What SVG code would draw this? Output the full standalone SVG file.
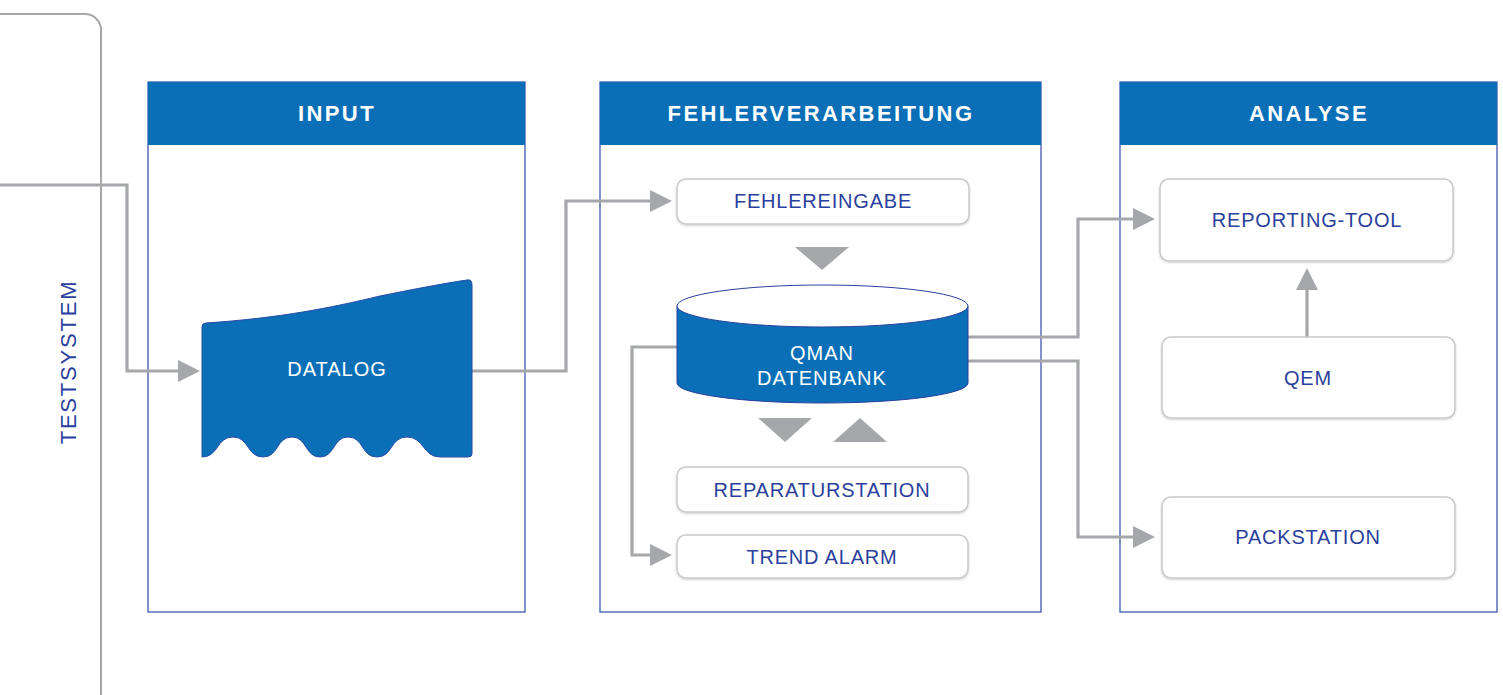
<svg xmlns="http://www.w3.org/2000/svg" width="1503" height="695" viewBox="0 0 1503 695">
<style>
.panel{fill:#fff;stroke:#3f58b3;stroke-width:1.3}
.head{fill:#0b6fb8}
.htxt{font-family:"Liberation Sans",Arial,sans-serif;font-weight:bold;font-size:22px;letter-spacing:2.4px;fill:#fff;text-anchor:middle}
.box{fill:#fff;stroke:#c9c9cb;stroke-width:1.5;filter:url(#sh)}
.btxt{font-family:"Liberation Sans",Arial,sans-serif;font-size:20px;letter-spacing:0.8px;fill:#2b3f9c;text-anchor:middle}
.wtxt{font-family:"Liberation Sans",Arial,sans-serif;font-size:20px;letter-spacing:1px;fill:#fff;text-anchor:middle}
.conn{fill:none;stroke:#a6a7aa;stroke-width:3.2;marker-end:url(#arr)}
.tri{fill:#a6a7aa}
</style>
<defs>
<filter id="sh" x="-10%" y="-20%" width="120%" height="150%">
<feDropShadow dx="0" dy="1" stdDeviation="1.2" flood-color="#000" flood-opacity="0.2"/>
</filter>
<marker id="arr" viewBox="0 0 22 22" refX="0" refY="11" markerWidth="22" markerHeight="22" markerUnits="userSpaceOnUse" orient="auto">
<path d="M0,0 L22,11 L0,22 Z" fill="#a6a7aa"/>
</marker>
</defs>

<g id="testsystem">
<rect x="-30" y="14" width="131" height="700" rx="16" fill="none" stroke="#a6a7aa" stroke-width="2"/>
<text class="btxt" transform="translate(76,362) rotate(-90)" style="font-size:22px;letter-spacing:1.8px">TESTSYSTEM</text>
</g>

<g id="panel-input">
<rect class="panel" x="148" y="82" width="377" height="530"/>
<rect class="head" x="148" y="82" width="377" height="63"/>
<text class="htxt" x="337" y="121">INPUT</text>
</g>

<g id="panel-fehler">
<rect class="panel" x="600" y="82" width="441" height="530"/>
<rect class="head" x="600" y="82" width="441" height="63"/>
<text class="htxt" x="821" y="121">FEHLERVERARBEITUNG</text>
</g>

<g id="panel-analyse">
<rect class="panel" x="1120" y="82" width="377" height="530"/>
<rect class="head" x="1120" y="82" width="377" height="63"/>
<text class="htxt" x="1309" y="121">ANALYSE</text>
</g>

<g id="connectors">
<path class="conn" d="M0,185 H127 V371 H178"/>
<path class="conn" d="M472,371 H566 V201 H650"/>
<path class="conn" d="M677,347 H632 V555 H650"/>
<path class="conn" d="M968,337 H1078 V219 H1133"/>
<path class="conn" d="M968,361 H1078 V537 H1133"/>
<path class="conn" d="M1307,337 V290"/>
<polygon class="tri" points="795,247 849,247 822,270"/>
<polygon class="tri" points="758,418 812,418 785,442"/>
<polygon class="tri" points="833,442 887,442 860,418"/>
</g>

<g id="datalog">
<path d="M206,323 C280,318 330,308 380,296 C410,290 440,284 467,280 Q472,279 472,285 L472,454 Q472,457 468,457 L440,457 C423,457 424,437 407,437 C390,437 393,457 377,457 C361,457 364,437 348,437 C333,437 335,457 320,457 C305,457 307,437 292,437 C276,437 279,457 263,457 C247,457 249,437 233,437 C216,437 219,457 202,457 L202,327 Q202,323 206,323 Z" fill="#0b6fb8" stroke="#2a4aa8" stroke-width="1"/>
<text class="wtxt" x="337" y="376">DATALOG</text>
</g>

<g id="fehlereingabe">
<rect class="box" x="677" y="179" width="292" height="45" rx="9"/>
<text class="btxt" x="823" y="208">FEHLEREINGABE</text>
</g>

<g id="datenbank">
<path d="M677,306 L677,383 A145.5,20 0 0 0 968,383 L968,306 Z" fill="#0b6fb8" stroke="#2a3f9e" stroke-width="1"/>
<ellipse cx="822.5" cy="306" rx="145.5" ry="21" fill="#fff" stroke="#2a3f9e" stroke-width="1"/>
<text class="wtxt" x="822" y="360">QMAN</text>
<text class="wtxt" x="822" y="385">DATENBANK</text>
</g>

<g id="reparaturstation">
<rect class="box" x="677" y="467" width="291" height="45" rx="9"/>
<text class="btxt" x="822" y="497">REPARATURSTATION</text>
</g>

<g id="trendalarm">
<rect class="box" x="677" y="535" width="291" height="43" rx="9"/>
<text class="btxt" x="822" y="564">TREND ALARM</text>
</g>

<g id="reporting">
<rect class="box" x="1160" y="179" width="293" height="82" rx="9"/>
<text class="btxt" x="1307" y="227">REPORTING-TOOL</text>
</g>

<g id="qem">
<rect class="box" x="1162" y="337" width="293" height="81" rx="9"/>
<text class="btxt" x="1308" y="385">QEM</text>
</g>

<g id="packstation">
<rect class="box" x="1162" y="497" width="293" height="81" rx="9"/>
<text class="btxt" x="1308" y="544">PACKSTATION</text>
</g>
</svg>
